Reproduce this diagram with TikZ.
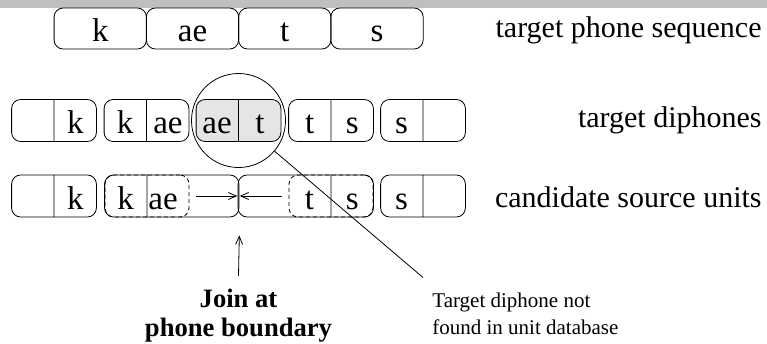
\documentclass[tikz,border=0pt]{standalone}
\usepackage{fontspec}
\setmainfont{Liberation Serif}
\usetikzlibrary{shapes.multipart,arrows.meta}
\definecolor{barcolor}{gray}{0.75}
\definecolor{pickfill}{gray}{0.9}
\newcommand{\half}[1]{\makebox[42pt]{\rule[-8pt]{0pt}{42pt}#1}}

\begin{document}
\begin{tikzpicture}[x=1pt,y=-1pt,line width=0.8pt,
  phone/.style={draw,rounded corners=9pt,minimum width=92.3pt,minimum height=41pt,
    inner sep=0pt,text height=33pt,text depth=8pt,font=\fontsize{33}{33}\selectfont},
  diphone/.style={draw,rounded corners=9pt,rectangle split,rectangle split horizontal,
    rectangle split parts=2,inner sep=0pt,font=\fontsize{33}{33}\selectfont},
  ghost/.style={draw,rounded corners=9pt,dash pattern=on 4pt off 3pt,
    minimum width=84pt,minimum height=42pt,inner sep=0pt},
  rowlabel/.style={anchor=base east,inner sep=0pt,font=\fontsize{30}{30}\selectfont},
  >={Straight Barb[length=8pt,width=7pt]}]
\useasboundingbox (0,0) rectangle (767,343);
\fill[barcolor] (0,0) rectangle (767,8);

\node[phone] (k) at (100.25,28.5) {k};
\node[phone] (ae) at (192.5,28.5) {ae};
\node[phone] (t) at (284.75,28.5) {t};
\node[phone] (s) at (377,28.5) {s};
\node[rowlabel] (seq) at (762,37.5) {target phone sequence};

\node[diphone] (d1) at (54,120.5) {\half{}\nodepart{two}\half{k}};
\node[diphone] (d2) at (146.5,120.5) {\half{k}\nodepart{two}\half{ae}};
\node[diphone,fill=pickfill] (d3) at (238.5,120.5) {\half{ae}\nodepart{two}\half{t}};
\node[diphone] (d4) at (331,120.5) {\half{t}\nodepart{two}\half{s}};
\node[diphone] (d5) at (423,120.5) {\half{s}\nodepart{two}\half{}};
\node[rowlabel] (dip) at (762,127) {target diphones};
\node[draw,circle,minimum size=94pt,inner sep=0pt] (lens) at (238.5,120.5) {};

\node[diphone] (u1) at (54,196) {\half{}\nodepart{two}\half{k}};
\node[diphone] (kae) at (171.75,196) {\half{k}\nodepart{two}\makebox[91.5pt][l]{\rule[-8pt]{0pt}{42pt}\hspace{1pt}ae}};
\node[diphone] (ts) at (305.75,196) {\makebox[92.5pt][r]{\rule[-8pt]{0pt}{42pt}t\hspace{16.5pt}}\nodepart{two}\half{s}};
\node[diphone] (u4) at (423,196) {\half{s}\nodepart{two}\half{}};
\node[ghost] (kaeunit) at (147,196) {};
\node[ghost] (tsunit) at (331,196) {};
\node[rowlabel] (src) at (762,207) {candidate source units};

\draw[->] ([xshift=7pt]kaeunit.east) -- ([xshift=-2pt]kae.east);
\draw[->] ([xshift=-7pt]tsunit.west) -- ([xshift=2pt]ts.west);

\node[anchor=north,align=center,inner sep=0pt,font=\bfseries\fontsize{26.6}{28.5}\selectfont] (join) at (238.5,289) {Join at\\phone boundary};
\draw[->] ([yshift=13pt]join.north) -- ([yshift=-18pt]kae.south east);

\node[anchor=north west,align=left,inner sep=0pt,font=\fontsize{21}{27}\selectfont] (note) at (432,292.5) {Target diphone not\\found in unit database};
\draw (lens) -- ([xshift=-9pt,yshift=15pt]note.north west);
\end{tikzpicture}
\end{document}
